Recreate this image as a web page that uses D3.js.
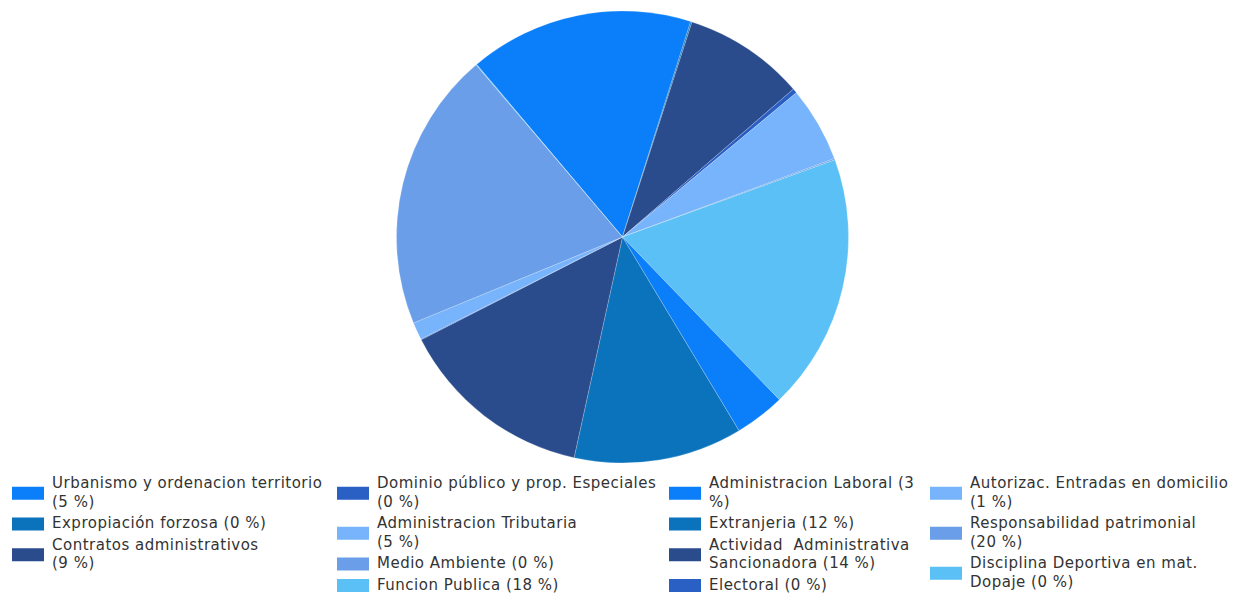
<!DOCTYPE html>
<html>
<head>
<meta charset="utf-8">
<title>Pie chart</title>
<script src="https://d3js.org/d3.v7.min.js"></script>
<style>
  body { margin: 0; background: #fff; }
  svg { display: block; }
  .legend text { font-family: "DejaVu Sans", Verdana, sans-serif; font-size: 15px; letter-spacing: 0.5px; fill: #333; white-space: pre; }
</style>
</head>
<body>
<script>

	// data, slice order = clockwise, legend order = column by column
	var categories = [
		"Urbanismo y ordenacion territorio", "Expropiación forzosa", "Contratos administrativos",
		"Dominio público y prop. Especiales", "Administracion Tributaria", "Medio Ambiente", "Funcion Publica",
		"Administracion Laboral", "Extranjeria", "Actividad  Administrativa Sancionadora", "Electoral",
		"Autorizac. Entradas en domicilio", "Responsabilidad patrimonial", "Disciplina Deportiva en mat. Dopaje"
	];
	// share of the circle each slice takes (estimated from angles)
	var values = [16.1, 0.1, 8.7, 0.33, 5.4, 0.1, 18.4, 3.6, 12.1, 14.1, 0.05, 1.26, 20.06, 0.05];
	// legend text as printed, with its line breaks
	var legendLabels = [
		["Urbanismo y ordenacion territorio", "(5 %)"],
		["Expropiación forzosa (0 %)"],
		["Contratos administrativos", "(9 %)"],
		["Dominio público y prop. Especiales", "(0 %)"],
		["Administracion Tributaria", "(5 %)"],
		["Medio Ambiente (0 %)"],
		["Funcion Publica (18 %)"],
		["Administracion Laboral (3", "%)"],
		["Extranjeria (12 %)"],
		["Actividad  Administrativa", "Sancionadora (14 %)"],
		["Electoral (0 %)"],
		["Autorizac. Entradas en domicilio", "(1 %)"],
		["Responsabilidad patrimonial", "(20 %)"],
		["Disciplina Deportiva en mat.", "Dopaje (0 %)"]
	];
	var legendColumns = [3, 4, 4, 3];

	// settings
	var Settings = {
		width : 1233,
		height : 596,
		cx : 622.5,
		cy : 237,
		radius : 226,
		startDeg : -40.2,
		colors : ["#0b7ffa", "#0a73bc", "#2a4c8c", "#2a5fc4", "#78b4fb", "#6a9ee8", "#5bc0f5"],
		legend : {
			colX : [12, 337, 669, 930],
			textOffset : 40,
			firstBaseline : 488,
			lineHeight : 18.5,
			itemGap : 3,
			swW : 32,
			swH : 13
		}
	};

	var color = d3.scaleOrdinal()
		.domain(d3.range(categories.length))
		.range(Settings.colors);

	var svg = d3.select("body").append("svg")
		.attr("width", Settings.width)
		.attr("height", Settings.height);

	// pie
	var start = Settings.startDeg * Math.PI / 180;
	var pie = d3.pie()
		.sort(null)
		.value(function (d) { return d; })
		.startAngle(start)
		.endAngle(start + 2 * Math.PI);

	var arc = d3.arc().innerRadius(0).outerRadius(Settings.radius);

	var g = svg.append("g")
		.attr("transform", "translate(" + Settings.cx + "," + Settings.cy + ")");

	g.selectAll("path")
		.data(pie(values))
		.enter().append("path")
		.attr("d", arc)
		.attr("fill", function (d, i) { return color(i); })
		.attr("stroke", "rgba(255,255,255,0.35)")
		.attr("stroke-width", 0.6);

	// legend, filled column by column
	var lg = svg.append("g").attr("class", "legend");
	var L = Settings.legend;
	var idx = 0;
	legendColumns.forEach(function (count, c) {
		var y = L.firstBaseline;
		for (var k = 0; k < count; k++, idx++) {
			var lines = legendLabels[idx];
			var firstCenter = y - 5;
			var lastCenter = y - 5 + (lines.length - 1) * L.lineHeight;
			var mid = (firstCenter + lastCenter) / 2 + 1;

			lg.append("rect")
				.attr("x", L.colX[c])
				.attr("y", mid - L.swH / 2)
				.attr("width", L.swW)
				.attr("height", L.swH)
				.attr("fill", color(idx));

			var t = lg.append("text")
				.attr("x", L.colX[c] + L.textOffset)
				.attr("y", y);
			lines.forEach(function (s, j) {
				t.append("tspan")
					.attr("x", L.colX[c] + L.textOffset)
					.attr("y", y + j * L.lineHeight)
					.text(s);
			});
			y += lines.length * L.lineHeight + L.itemGap;
		}
	});

</script>
</body>
</html>
